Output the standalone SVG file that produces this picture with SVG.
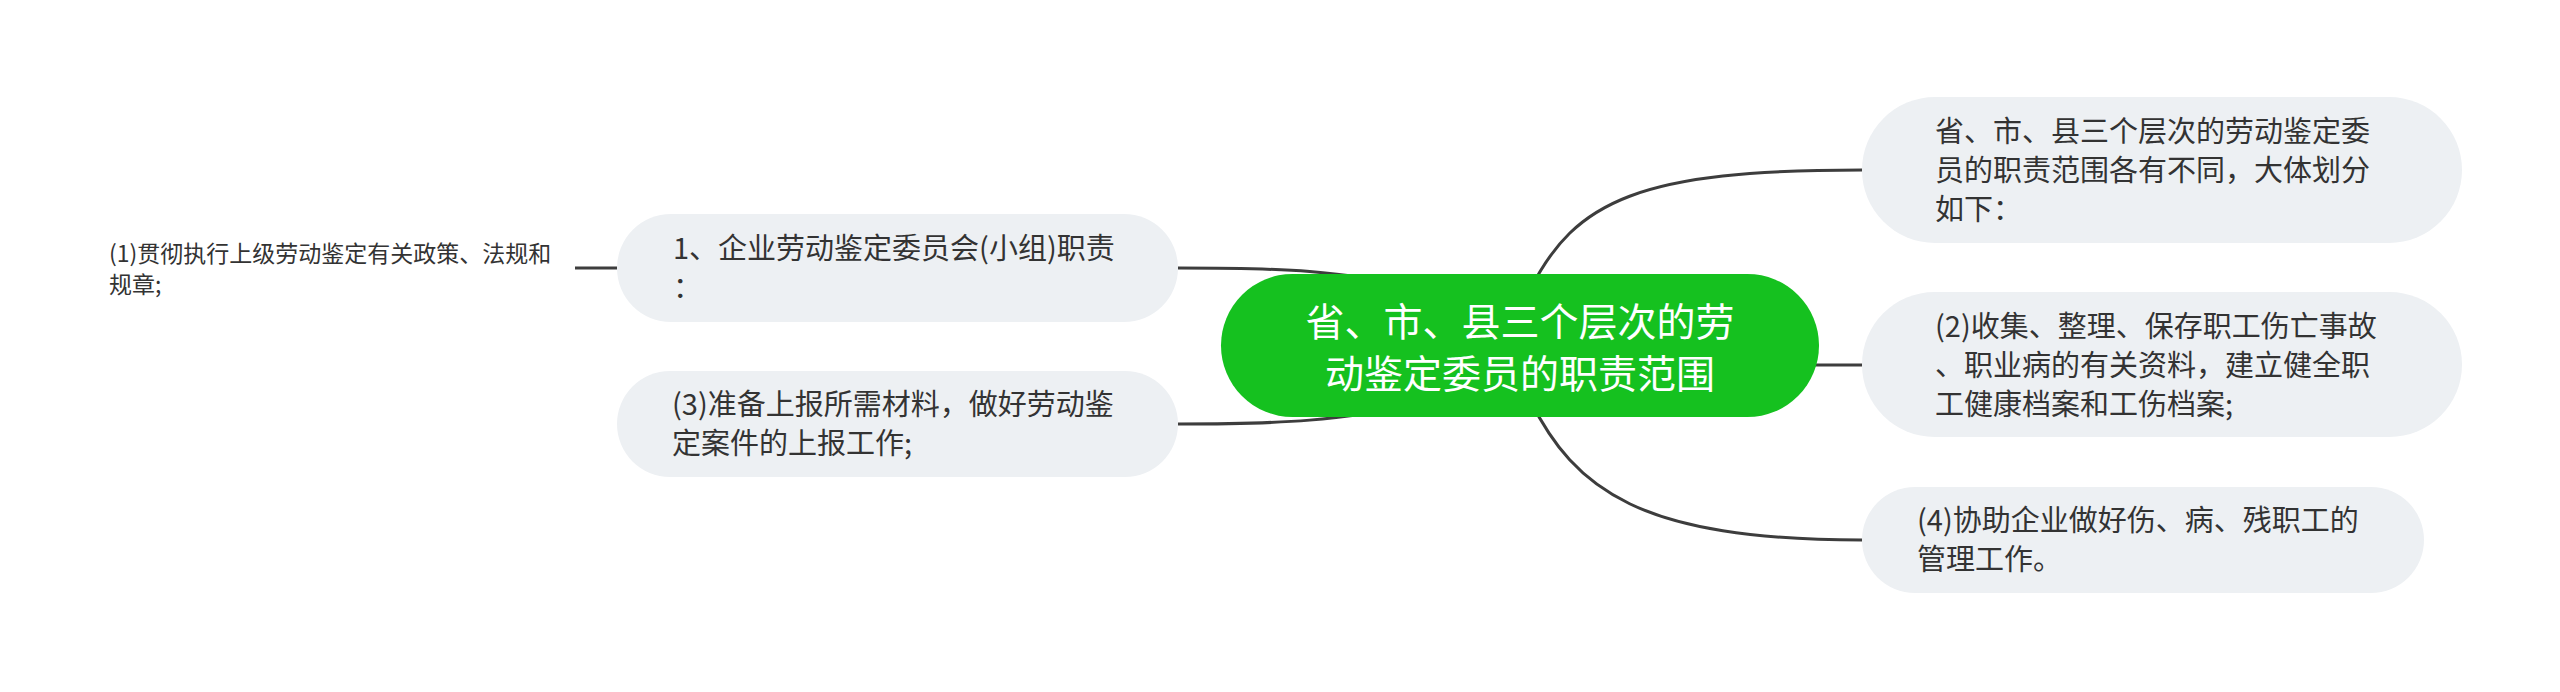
<svg xmlns="http://www.w3.org/2000/svg" width="2560" height="692" viewBox="0 0 2560 692">
<style>
.bg{fill:#ffffff}
.node{fill:#EDF0F3}
.root{fill:#15C11F}
.t{font-family:"Noto Sans CJK SC","Noto Sans",sans-serif;font-size:29px;fill:#333333}
.rt{font-family:"Noto Sans CJK SC","Noto Sans",sans-serif;font-size:39px;fill:#ffffff}
.st{font-family:"Noto Sans CJK SC","Noto Sans",sans-serif;font-size:23px;fill:#333333}
.c{fill:none;stroke:#3d3d3d;stroke-width:3;stroke-linecap:butt}
</style>
<rect class="bg" x="0" y="0" width="2560" height="692"/>
<g id="connectors">
<path class="c" d="M1178,268 C1290,268 1330,270 1440,290"/>
<path class="c" d="M1178,424 C1290,424 1330,421 1440,402"/>
<path class="c" d="M575,268 L617,268"/>
<path class="c" stroke-width="2.5" d="M1530,290 C1575,200 1640,170 1862,170"/>
<path class="c" d="M1815,365 L1862,365"/>
<path class="c" stroke-width="2.5" d="M1530,400 C1575,490 1640,540 1862,540"/>
</g>
<g id="root">
<rect class="root" x="1221" y="274" width="598" height="143" rx="71.5"/>
<text class="rt" x="1520" y="336" text-anchor="middle">省、市、县三个层次的劳</text>
<text class="rt" x="1520" y="388" text-anchor="middle">动鉴定委员的职责范围</text>
</g>
<g id="node-top">
<rect class="node" x="1862" y="97" width="600" height="146" rx="73"/>
<text class="t" x="1935" y="142">省、市、县三个层次的劳动鉴定委</text>
<text class="t" x="1935" y="181">员的职责范围各有不同，大体划分</text>
<text class="t" x="1935" y="220">如下：</text>
</g>
<g id="node-2">
<rect class="node" x="1862" y="292" width="600" height="145" rx="72.5"/>
<text class="t" x="1935" y="337">(2)收集、整理、保存职工伤亡事故</text>
<text class="t" x="1935" y="376">、职业病的有关资料，建立健全职</text>
<text class="t" x="1935" y="415">工健康档案和工伤档案;</text>
</g>
<g id="node-4">
<rect class="node" x="1862" y="487" width="562" height="106" rx="53"/>
<text class="t" x="1917" y="531">(4)协助企业做好伤、病、残职工的</text>
<text class="t" x="1917" y="570">管理工作。</text>
</g>
<g id="node-1">
<rect class="node" x="617" y="214" width="561" height="108" rx="54"/>
<text class="t" x="673" y="259">1、企业劳动鉴定委员会(小组)职责</text>
<text class="t" x="673" y="298">：</text>
</g>
<g id="node-3">
<rect class="node" x="617" y="371" width="561" height="106" rx="53"/>
<text class="t" x="672" y="415">(3)准备上报所需材料，做好劳动鉴</text>
<text class="t" x="672" y="454">定案件的上报工作;</text>
</g>
<g id="node-1-1">
<text class="st" x="109" y="262">(1)贯彻执行上级劳动鉴定有关政策、法规和</text>
<text class="st" x="109" y="293">规章;</text>
</g>
</svg>
